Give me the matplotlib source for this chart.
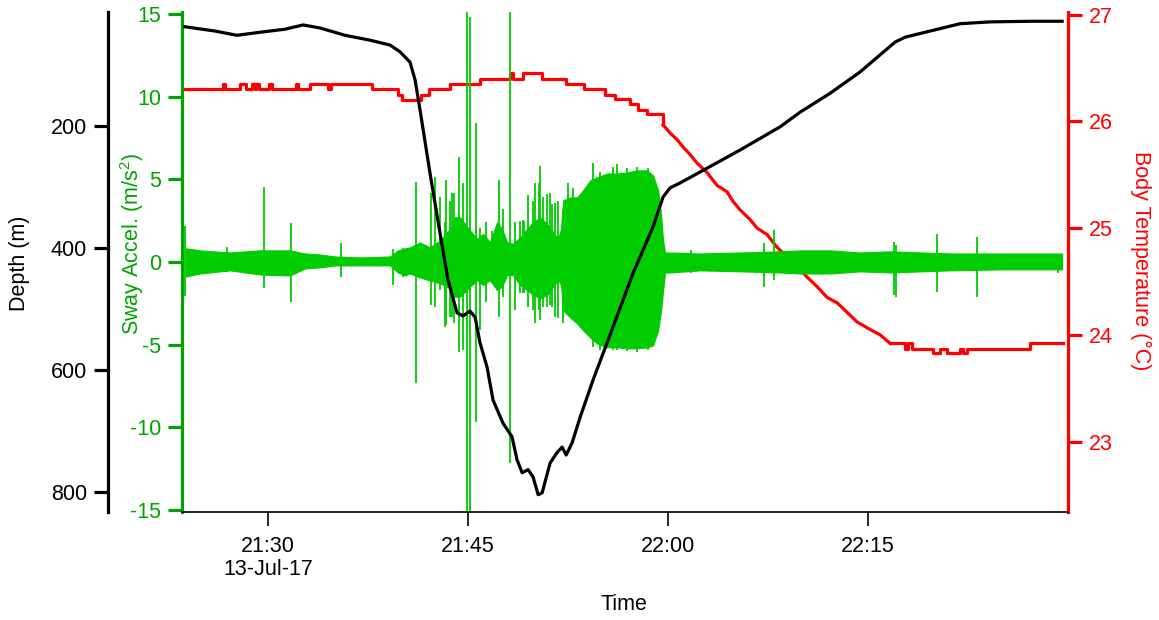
import matplotlib
matplotlib.use("Agg")
import matplotlib.pyplot as plt
import matplotlib.dates as mdates
import numpy as np
import pandas as pd

plt.rcParams['font.family'] = ['Liberation Sans', 'DejaVu Sans']
plt.rcParams['mathtext.default'] = 'regular'
plt.rcParams['axes.unicode_minus'] = False

START = pd.Timestamp('2017-07-13 21:00:00')

# all times are minutes after 21:00 on 13-Jul-17
depth_min = [23.77, 26.02, 27.67, 29.40, 31.28, 32.63, 33.90, 35.78, 37.65, 39.15,
             39.90, 40.65, 41.03, 41.40, 42.15, 42.90, 43.50, 44.18, 44.63, 45.15,
             45.53, 45.90, 46.43, 46.88, 47.63, 48.30, 48.68, 49.06, 49.51, 49.88,
             50.26, 50.56, 51.16, 51.68, 52.06, 52.36, 52.81, 53.41, 54.38, 55.88,
             57.38, 58.88, 59.63, 60.16, 60.91, 62.41, 65.41, 68.41, 69.91, 72.16,
             74.41, 75.91, 77.04, 77.79, 80.04, 81.91, 84.16, 87.17, 89.56]
depth_m = [38, 45, 52, 47, 42, 35, 40, 52, 60, 68,
           79, 96, 125, 174, 278, 376, 453, 507, 512, 504,
           514, 556, 596, 650, 688, 710, 748, 769, 764, 776,
           805, 802, 753, 736, 727, 740, 720, 678, 617, 530,
           442, 366, 317, 302, 294, 276, 240, 202, 178, 147,
           112, 84, 63, 55, 43, 33, 30, 29, 29]

temp_min = [23.77, 26.62, 26.77, 27.90, 28.35, 28.80, 29.02, 29.10, 29.32, 30.08,
            30.30, 32.10, 32.25, 33.15, 34.50, 34.73, 37.80, 39.75, 40.05, 41.48,
            42.08, 43.65, 45.90, 48.15, 48.38, 49.13, 50.56, 52.36, 53.71, 55.28,
            56.03, 57.16, 57.76, 58.43, 59.63, 60.16, 60.68, 61.13, 61.65, 62.18,
            62.93, 63.68, 64.43, 64.88, 65.41, 66.16, 66.68, 67.43, 68.18, 68.94,
            69.69, 70.44, 71.19, 71.94, 72.69, 73.44, 74.19, 75.16, 75.91, 76.66,
            77.79, 78.01, 78.31, 79.88, 80.41, 80.94, 81.91, 82.14, 82.44, 87.17,
            89.64]
temp_c = [26.30, 26.35, 26.30, 26.35, 26.30, 26.35, 26.30, 26.35, 26.30, 26.35,
          26.30, 26.35, 26.30, 26.35, 26.30, 26.35, 26.30, 26.25, 26.20, 26.25,
          26.30, 26.35, 26.40, 26.45, 26.40, 26.45, 26.40, 26.35, 26.30, 26.25,
          26.21, 26.16, 26.11, 26.07, 25.97, 25.89, 25.83, 25.76, 25.69, 25.61,
          25.52, 25.40, 25.34, 25.25, 25.17, 25.08, 25.00, 24.94, 24.82, 24.73,
          24.64, 24.54, 24.45, 24.35, 24.30, 24.21, 24.12, 24.05, 24.00, 23.92,
          23.87, 23.92, 23.87, 23.83, 23.87, 23.83, 23.87, 23.83, 23.87, 23.92,
          23.92]
# the fast cooling part reads as a sloped line, the rest as logger steps
ramp_start, ramp_end = 59.63, 76.66

# sway acceleration: envelope of the dense core of the oscillation
band_min = [23.85, 24.90, 27.15, 29.40, 31.65, 32.78, 33.90, 35.03, 36.90, 39.15,
            39.75, 40.28, 40.65, 41.40, 42.15, 42.90, 43.65, 44.03, 44.40, 44.78,
            45.15, 45.68, 46.13, 46.65, 47.18, 47.55, 47.93, 48.38, 48.91, 49.43,
            49.88, 50.41, 50.93, 51.38, 51.76, 51.98, 52.13, 52.66, 53.18, 53.63,
            54.16, 54.68, 55.43, 56.18, 56.93, 57.68, 58.43, 58.88, 59.26, 59.48,
            59.63, 59.78, 60.16, 62.41, 65.41, 68.41, 69.91, 72.16, 74.41, 76.66,
            81.16, 84.92, 89.56]
band_hi = [0.82, 0.70, 0.57, 0.70, 0.70, 0.51, 0.45, 0.33, 0.27, 0.33,
           0.70, 0.82, 0.88, 1.18, 0.88, 1.30, 2.00, 2.70, 2.70, 2.30,
           1.90, 1.40, 1.70, 1.20, 2.40, 2.00, 1.20, 1.10, 1.50, 2.00,
           2.40, 2.70, 2.30, 1.80, 1.40, 2.00, 3.72, 3.90, 3.90, 4.33,
           4.93, 5.11, 5.35, 5.35, 5.41, 5.54, 5.54, 5.23, 4.33, 2.81,
           1.30, 0.57, 0.57, 0.51, 0.57, 0.64, 0.70, 0.70, 0.57, 0.64,
           0.51, 0.51, 0.51]
band_lo = [-0.88, -0.70, -0.51, -0.76, -0.82, -0.39, -0.33, -0.21, -0.21, -0.21,
           -0.64, -0.82, -0.70, -0.94, -1.12, -1.30, -1.60, -2.10, -2.10, -1.80,
           -1.50, -1.10, -1.40, -1.10, -1.70, -1.50, -0.80, -0.80, -1.40, -1.70,
           -2.00, -2.20, -2.00, -1.50, -1.10, -1.40, -2.93, -3.36, -3.72, -4.14,
           -4.57, -4.93, -5.17, -5.17, -5.23, -5.23, -5.17, -5.05, -4.14, -2.93,
           -1.72, -0.64, -0.64, -0.51, -0.57, -0.64, -0.70, -0.70, -0.57, -0.64,
           -0.51, -0.45, -0.45]

# sway acceleration: isolated spikes
spike_min = [23.77, 26.92, 29.70, 31.73, 35.48, 39.38, 40.13, 41.10, 42.23, 42.53,
             42.90, 43.28, 43.35, 43.65, 43.80, 43.95, 44.33, 44.63, 44.93, 45.15,
             45.60, 45.90, 46.35, 46.80, 47.33, 47.63, 48.15, 48.53, 48.91, 49.13,
             49.21, 49.51, 49.88, 50.03, 50.33, 50.41, 50.63, 50.93, 51.16, 51.31,
             51.53, 51.76, 52.13, 52.51, 52.88, 54.38, 54.91, 55.88, 56.18, 56.93,
             57.68, 58.51, 61.73, 67.21, 67.96, 76.96, 77.11, 80.19, 83.19, 89.27]
spike_hi = [2.15, 0.88, 4.51, 2.33, 1.12, 0.76, 0.82, 4.81, 4.14, 5.11,
            3.90, 2.40, 4.93, 3.70, 4.14, 4.14, 6.32, 4.75, 15.5, 14.79,
            8.38, 2.03, 2.39, 1.90, 4.93, 3.20, 15.5, 2.39, 2.50, 2.51,
            2.50, 4.02, 3.70, 4.75, 4.75, 5.78, 3.90, 4.10, 4.14, 3.50,
            3.54, 3.70, 3.10, 4.75, 4.45, 5.96, 5.41, 5.72, 5.90, 5.70,
            5.72, 5.66, 0.70, 1.12, 1.91, 1.18, 1.00, 1.66, 1.48, 0.39]
spike_lo = [-2.09, -0.64, -1.60, -2.45, -0.94, -1.42, -0.94, -7.35, -2.63, -2.75,
            -1.72, -3.96, -3.84, -3.36, -3.36, -3.72, -5.48, -5.30, -15.5, -15.5,
            -9.71, -4.14, -2.45, -1.30, -3.36, -2.15, -12.19, -2.93, -1.90, -1.91,
            -1.90, -2.75, -2.90, -3.72, -2.90, -3.54, -2.75, -2.75, -2.63, -2.75,
            -3.36, -3.40, -3.70, -2.51, -2.93, -5.17, -5.35, -5.35, -5.30, -5.40,
            -5.48, -5.35, -0.70, -1.54, -1.12, -2.03, -2.15, -1.85, -2.15, -0.70]

tick_min = [30, 45, 60, 75]
tick_labels = ['21:30\n13-Jul-17', '21:45', '22:00', '22:15']
x_range_min = [23.55, 90.0]

GREEN_TRACE = '#00CC00'
GREEN_AXIS = '#00A400'
RED = '#FF0000'
FS = 15.5


def to_time(minutes):
    return mdates.date2num(START + pd.to_timedelta(np.asarray(minutes, dtype=float), unit='min'))


fig = plt.figure(figsize=(11.59, 6.2), dpi=100)
ax_g = fig.add_axes([182 / 1159, 108 / 620, 886 / 1159, 500 / 620])
ax_t = ax_g.twinx()
ax_d = ax_g.twinx()

ax_t.set_zorder(1)
ax_g.set_zorder(2)
ax_d.set_zorder(3)
for a in (ax_g, ax_t, ax_d):
    a.patch.set_visible(False)
    for s in a.spines.values():
        s.set_visible(False)

# temperature (bottom layer)
tt = to_time(temp_min)
tc = np.asarray(temp_c)
a = temp_min.index(ramp_start)
b = temp_min.index(ramp_end)
ax_t.plot(tt[:a + 1], tc[:a + 1], color=RED, lw=2.3, drawstyle='steps-post')
ax_t.plot(tt[a:b + 1], tc[a:b + 1], color=RED, lw=2.3)
ax_t.plot(tt[b:], tc[b:], color=RED, lw=2.3, drawstyle='steps-post')
ax_t.set_ylim(22.34, 27.025)
ax_t.set_yticks([23, 24, 25, 26, 27])
ax_t.spines['right'].set_visible(True)
ax_t.spines['right'].set_color(RED)
ax_t.spines['right'].set_linewidth(2.3)
ax_t.tick_params(axis='y', colors=RED, labelcolor=RED, length=10, width=2.3,
                 labelsize=FS, pad=5)

# sway acceleration
ax_g.fill_between(to_time(band_min), band_lo, band_hi, color=GREEN_TRACE, lw=0.8,
                  edgecolor=GREEN_TRACE)
ax_g.vlines(to_time(spike_min), spike_lo, spike_hi, color=GREEN_TRACE, lw=1.3)
ax_g.set_ylim(-15.13, 15.12)
ax_g.set_yticks([-15, -10, -5, 0, 5, 10, 15])
ax_g.spines['left'].set_visible(True)
ax_g.spines['left'].set_color(GREEN_AXIS)
ax_g.spines['left'].set_linewidth(2.3)
ax_g.spines['bottom'].set_visible(True)
ax_g.spines['bottom'].set_linewidth(1.2)
ax_g.tick_params(axis='y', colors=GREEN_AXIS, labelcolor=GREEN_AXIS, length=10,
                 width=2.3, labelsize=FS, pad=5)

ax_g.set_xlim(to_time(x_range_min))
ax_g.set_xticks(to_time(tick_min))
ax_g.set_xticklabels(tick_labels, fontsize=FS, linespacing=1.15)
ax_g.tick_params(axis='x', length=10, width=1.2, pad=7)

# depth (top layer)
ax_d.plot(to_time(depth_min), depth_m, color='black', lw=2.3)
ax_d.set_ylim(833.4, 13.8)
ax_d.set_yticks([200, 400, 600, 800])
ax_d.yaxis.set_ticks_position('left')
ax_d.yaxis.set_label_position('left')
ax_d.spines['left'].set_visible(True)
ax_d.spines['left'].set_position(('axes', -74 / 886))
ax_d.spines['left'].set_linewidth(2.3)
ax_d.tick_params(axis='y', colors='black', length=10, width=2.3, labelsize=FS, pad=5)

fig.text(20 / 1159, 1 - 263 / 620, 'Depth (m)', rotation=90, ha='center', va='center',
         fontsize=FS)
fig.text(132 / 1159, 1 - 244 / 620, 'Sway Accel. (m/s$^{2}$)', rotation=90,
         ha='center', va='center', fontsize=FS, color=GREEN_AXIS)
fig.text(1141 / 1159, 1 - 261 / 620, 'Body Temperature (\u00b0C)', rotation=270,
         ha='center', va='center', fontsize=FS, color=RED)
fig.text(624 / 1159, 1 - 605 / 620, 'Time', ha='center', va='center', fontsize=FS)

fig.savefig('out.png', dpi=100, facecolor='white')
